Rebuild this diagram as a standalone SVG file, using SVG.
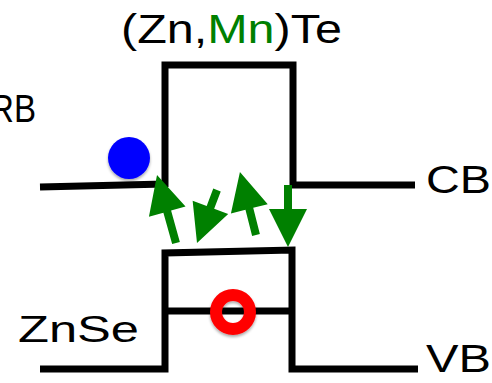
<svg xmlns="http://www.w3.org/2000/svg" width="492" height="383" viewBox="0 0 492 383">
<style>
.band{fill:none;stroke:#000;stroke-width:7;stroke-linecap:butt;stroke-linejoin:miter}
.lbl{font-family:"Liberation Sans",Arial,sans-serif;fill:#000}
.arr{fill:#008000}
</style>
<defs>
<filter id="sh" x="-30%" y="-30%" width="160%" height="160%">
<feGaussianBlur in="SourceAlpha" stdDeviation="1.5"/>
<feOffset dx="0" dy="2" result="b"/>
<feComponentTransfer><feFuncA type="linear" slope="0.35"/></feComponentTransfer>
<feMerge><feMergeNode/><feMergeNode in="SourceGraphic"/></feMerge>
</filter>
</defs>
<rect width="492" height="383" fill="#fff"/>
<g id="conduction-band">
<path class="band" d="M40,187 L165,184 M165,187 L165,65 L293,65 L293,185 L415,185"/>
</g>
<g id="valence-band">
<path class="band" d="M40,369 L165,369 L165,253 L292,250 L292,369 L418,369"/>
<path class="band" d="M165,311 L292,311"/>
</g>
<g id="connectors">
<polygon class="arr" transform="translate(176,243) rotate(164.4)" points="-4,0 4,0 4,32.6 19,32.6 0,70.6 -19,32.6 -4,32.6"/>
<polygon class="arr" transform="translate(217,190) rotate(20.7)" points="-4,0 4,0 4,18.6 19,18.6 0,56.6 -19,18.6 -4,18.6"/>
<polygon class="arr" transform="translate(256,235) rotate(165.7)" points="-4,0 4,0 4,27 19,27 0,65 -19,27 -4,27"/>
<polygon class="arr" transform="translate(288,185)" points="-4,0 4,0 4,24 19,24 0,62 -19,24 -4,24"/>
</g>
<g id="electron">
<circle cx="129" cy="158" r="21" fill="#0000ff" filter="url(#sh)"/>
</g>
<g id="hole">
<circle cx="233" cy="312" r="17" fill="none" stroke="#ff0000" stroke-width="12" filter="url(#sh)"/>
</g>
<g id="labels">
<text class="lbl" x="121" y="43" font-size="41" textLength="221" lengthAdjust="spacingAndGlyphs">(Zn,<tspan fill="#008000">Mn</tspan>)Te</text>
<text class="lbl" x="-10" y="122" font-size="39" textLength="46" lengthAdjust="spacingAndGlyphs">RB</text>
<text class="lbl" x="426" y="193" font-size="39" textLength="65" lengthAdjust="spacingAndGlyphs">CB</text>
<text class="lbl" x="426" y="372" font-size="39" textLength="65" lengthAdjust="spacingAndGlyphs">VB</text>
<text class="lbl" x="18" y="342" font-size="37" textLength="121" lengthAdjust="spacingAndGlyphs">ZnSe</text>
</g>
</svg>
